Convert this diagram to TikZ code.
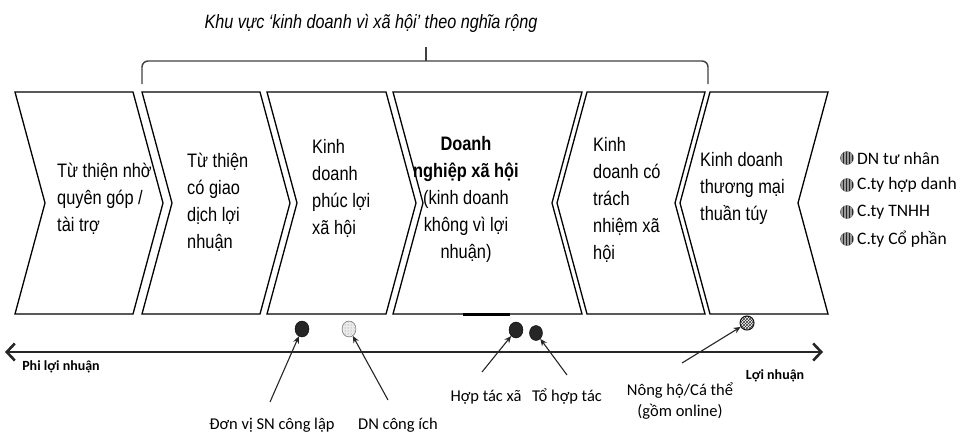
\documentclass[tikz,border=0pt]{standalone}
\usepackage{fontspec}
\setmainfont{Liberation Sans}[FakeStretch=0.84]
\newfontfamily\calib{Carlito}
\usetikzlibrary{arrows.meta,patterns,shapes.geometric}
\begin{document}
\begin{tikzpicture}[x=1pt,y=-1pt,
  chev/.style={draw=black, line width=1.3pt, line join=miter},
  body/.style={font=\fontsize{19.5}{27}\selectfont, align=left, inner sep=0pt, anchor=base west},
  lbl/.style={font=\calib\fontsize{16.5}{21}\selectfont, inner sep=0pt},
  axlbl/.style={font=\calib\bfseries\fontsize{14}{16}\selectfont, inner sep=0pt},
  legtxt/.style={font=\calib\fontsize{17.5}{20}\selectfont, inner sep=0pt, anchor=west},
  dotdark/.style={ellipse, draw=black, fill=black!85, minimum width=14pt, minimum height=16pt, inner sep=0pt},
  dotlight/.style={ellipse, draw=black!70, fill=black!8, minimum width=14pt, minimum height=16pt, inner sep=0pt, postaction={pattern=dots, pattern color=black!50}},
  dotzig/.style={circle, draw=black, fill=white, minimum size=14pt, inner sep=0pt, line width=1pt, postaction={pattern=crosshatch, pattern color=black!80}},
  legdot/.style={circle, draw=black!60, fill=black!40, minimum size=13pt, inner sep=0pt, postaction={pattern=vertical lines, pattern color=black!85}},
  pointer/.style={-{Stealth[length=7pt,width=6pt]}, line width=1.1pt, black!85},
  brace/.style={line width=1.4pt, black!75, rounded corners=6pt}
]
\useasboundingbox (0,0) rectangle (963,436);

% title and brace
\node[font=\itshape\fontsize{19.3}{20}\selectfont, inner sep=0pt] (title) at (371,23) {Khu vực ‘kinh doanh vì xã hội’ theo nghĩa rộng};
\draw[brace] (142,84) -- (142,61) -- (708,61) -- (708,84);
\draw[line width=1.2pt, black!75] (426,61) -- (426,47);

% chevrons
\draw[chev] (15,92) -- (133,92) -- (163,203) -- (133,314) -- (15,314) -- (45,203) -- cycle;
\draw[chev] (142,92) -- (260,92) -- (290,203) -- (260,314) -- (142,314) -- (172,203) -- cycle;
\draw[chev] (267,92) -- (386,92) -- (416,203) -- (386,314) -- (267,314) -- (297,203) -- cycle;
\draw[chev] (393,92) -- (582,92) -- (552,203) -- (582,314) -- (393,314) -- (423,203) -- cycle;
\draw[chev] (587,92) -- (705,92) -- (675,203) -- (705,314) -- (587,314) -- (557,203) -- cycle;
\draw[chev] (710,92) -- (828,92) -- (798,203) -- (828,314) -- (710,314) -- (680,203) -- cycle;
\draw[line width=3pt] (463,314) -- (510,314);

% texts in chevrons (base = baseline of last line)
\node[body] (t1) at (57,231) {Từ thiện nhờ\\quyên góp /\\tài trợ};
\node[body] (t2) at (187,248) {Từ thiện\\có giao\\dịch lợi\\nhuận};
\node[body] (t3) at (312,234) {Kinh\\doanh\\phúc lợi\\xã hội};
\node[body, align=center, anchor=base] (t4) at (466,258) {\textbf{Doanh}\\\textbf{nghiệp xã hội}\\(kinh doanh\\không vì lợi\\nhuận)};
\node[body] (t5) at (593,259) {Kinh\\doanh có\\trách\\nhiệm xã\\hội};
\node[body] (t6) at (700,220) {Kinh doanh\\thương mại\\thuần túy};

% legend
\foreach \i/\yy/\txt in {1/158/DN tư nhân, 2/185/C.ty hợp danh, 3/212/C.ty TNHH, 4/239/C.ty Cổ phần}{
  \node[legdot] (b\i) at (847,\yy) {};
  \node[legtxt] (g\i) at (857,\yy) {\txt};
}

% axis
\coordinate (axL) at (5,352);
\coordinate (axR) at (823,352);
\draw[line width=2.6pt, black!85, {Straight Barb[length=8pt,width=17pt]}-{Straight Barb[length=8pt,width=17pt]}] (axL) -- (axR);
\node[axlbl] (pl) at (61,367) {Phi lợi nhuận};
\node[axlbl] (ln) at (775,376) {Lợi nhuận};

% markers
\node[dotdark] (d1) at (302,329) {};
\node[dotlight] (d2) at (349,329) {};
\node[dotdark] (d3) at (516,330) {};
\node[dotdark, minimum width=13pt, minimum height=15pt] (d4) at (536,333) {};
\node[dotzig] (d5) at (747,323) {};

% labels
\node[lbl] (l1) at (272,425) {Đơn vị SN công lập};
\node[lbl] (l2) at (398,425) {DN công ích};
\node[lbl] (l3) at (486,397) {Hợp tác xã};
\node[lbl] (l4) at (567,397) {Tổ hợp tác};
\node[lbl, align=center] (l5) at (680,401) {Nông hộ/Cá thể\\(gồm online)};

% pointers
\coordinate (s1) at (270,402);
\coordinate (s2) at (388,400);
\coordinate (s3) at (482,372);
\coordinate (s4) at (567,375);
\coordinate (s5) at (682,363);
\draw[pointer] (s1) -- (d1);
\draw[pointer] (s2) -- (d2);
\draw[pointer] (s3) -- (d3);
\draw[pointer] (s4) -- (d4);
\draw[pointer] (s5) -- (d5);
\end{tikzpicture}
\end{document}
